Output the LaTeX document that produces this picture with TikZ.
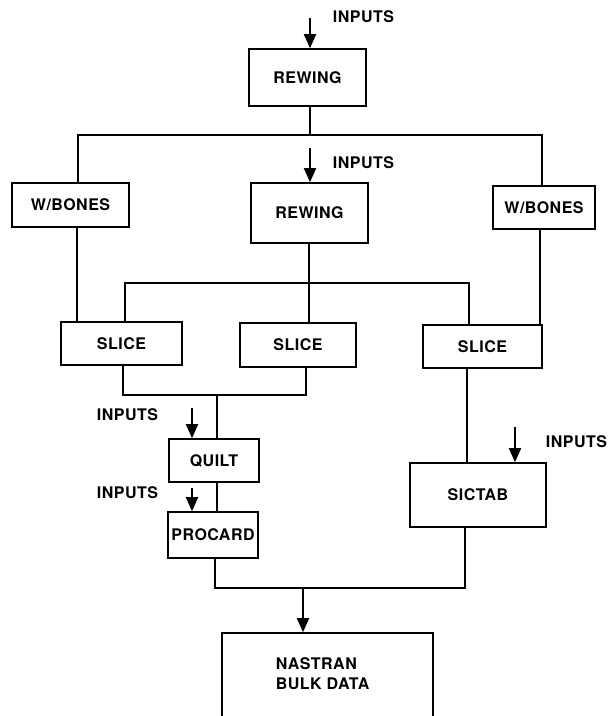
\documentclass[tikz,border=0pt]{standalone}
\usepackage{fontspec}
\setmainfont{TeX Gyre Heros}[LetterSpace=3]
\usetikzlibrary{arrows.meta}
\begin{document}
\begin{tikzpicture}[x=1pt,y=-1pt,
  line width=1.8pt,
  every node/.style={font=\fontsize{16}{20}\selectfont\bfseries},
  blk/.style={draw, rectangle, inner sep=0pt, line width=1.6pt},
  lbl/.style={anchor=west, inner sep=0pt},
  feed/.style={-{Triangle[length=14pt,width=12pt]}, line width=1.8pt}]
\useasboundingbox (0,0) rectangle (608,716);
\clip (0,0) rectangle (608,716);

% processing blocks
\node[blk, minimum width=117pt, minimum height=57pt] (rw1) at (307.5,77.5) {REWING};
\node[blk, minimum width=117pt, minimum height=44pt] (wb1) at (70.5,205) {W/BONES};
\node[blk, minimum width=117pt, minimum height=60pt] (rw2) at (309.5,213) {REWING};
\node[blk, minimum width=102pt, minimum height=43pt] (wb2) at (544,207.5) {W/BONES};
\node[blk, minimum width=121pt, minimum height=43pt] (sl1) at (121.5,343.5) {SLICE};
\node[blk, minimum width=116pt, minimum height=44pt] (sl2) at (298,345) {SLICE};
\node[blk, minimum width=119pt, minimum height=43pt] (sl3) at (482.5,346.5) {SLICE};
\node[blk, minimum width=90pt, minimum height=43pt] (quilt) at (214,460.5) {QUILT};
\node[blk, minimum width=90pt, minimum height=46pt] (procard) at (213,535) {PROCARD};
\node[blk, minimum width=136pt, minimum height=64pt] (sictab) at (478,495) {SICTAB};
\node[blk, minimum width=211pt, minimum height=120pt] (nastran) at (327.5,693) {};
\node[lbl, align=left] (nastxt) at (275,674) {NASTRAN\\BULK DATA};

% bus junction points
\coordinate (b1l) at (78,135);
\coordinate (b1m) at (310,135);
\coordinate (b1r) at (542,135);
\coordinate (b2l) at (125,283);
\coordinate (b2m) at (309,283);
\coordinate (b2r) at (469,283);
\coordinate (b3l) at (123,395);
\coordinate (b3m) at (217,395);
\coordinate (b3r) at (306,395);
\coordinate (b4l) at (215,588);
\coordinate (b4m) at (303,588);
\coordinate (b4r) at (465,588);

% input feeds
\coordinate (in1) at (310,18);
\coordinate (in2) at (310,148);
\coordinate (in3) at (192,408);
\coordinate (in4) at (192,488);
\coordinate (in5) at (515,427);
\node[lbl] (t1) at (332,17) {INPUTS};
\node[lbl] (t2) at (332,163) {INPUTS};
\node[lbl] (t3) at (96,415) {INPUTS};
\node[lbl] (t4) at (96,493) {INPUTS};
\node[lbl] (t5) at (545,442) {INPUTS};
\draw[feed] (in1) -- (rw1.north -| in1);
\draw[feed] (in2) -- (rw2.north -| in2);
\draw[feed] (in3) -- (quilt.north -| in3);
\draw[feed] (in4) -- (procard.north -| in4);
\draw[feed] (in5) -- (sictab.north -| in5);

% first REWING fans out
\draw (rw1.south -| b1m) -- (b1m);
\draw (wb1.north -| b1l) |- (b1r) -- (wb2.north -| b1r);
\draw (wb1.south -| 77,0) -- (sl1.north -| 77,0);
\draw (wb2.south -| 540,0) -- (sl3.north -| 540,0);

% second REWING fans out
\draw (rw2.south -| b2m) -- (sl2.north -| b2m);
\draw (sl1.north -| b2l) |- (b2r) -- (sl3.north -| b2r);

% left slices merge into QUILT
\draw (sl1.south -| b3l) |- (b3r) -- (sl2.south -| b3r);
\draw (b3m) -- (quilt.north -| b3m);
\draw (quilt.south -| b3m) -- (procard.north -| b3m);

% right slice into SICTAB
\draw (sl3.south -| 467,0) -- (sictab.north -| 467,0);

% merge into NASTRAN
\draw (procard.south -| b4l) |- (b4r) -- (sictab.south -| b4r);
\draw[feed] (b4m) -- (nastran.north -| b4m);
\end{tikzpicture}
\end{document}
